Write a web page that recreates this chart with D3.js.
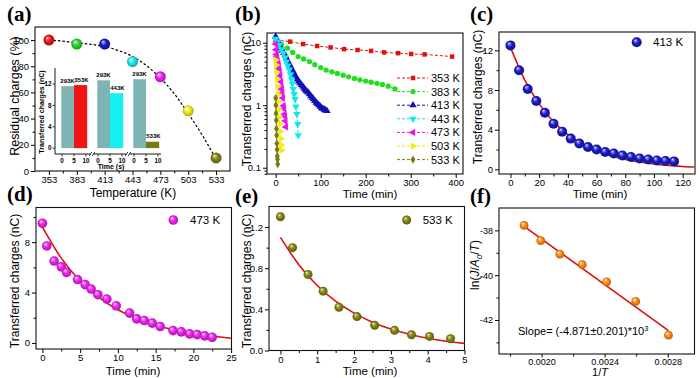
<!DOCTYPE html>
<html><head><meta charset="utf-8">
<script src="https://cdn.jsdelivr.net/npm/d3@7/dist/d3.min.js"></script>
<style>
body{margin:0;background:#fff}
svg{display:block}
text{font-family:Arial,"Liberation Sans",sans-serif;fill:#000}
text.letter{font-family:"Liberation Serif","Times New Roman",serif;font-weight:bold}
</style>
</head><body>
<svg id="fig" width="700" height="378"></svg>
<script>
// ---------------- DATA ----------------
// (a) residual charges vs temperature
const tempsA = [353, 383, 413, 443, 473, 503, 533];
const residualA = [100, 97, 97, 83.5, 72, 46, 10];
const fitA_T = [353, 368, 383, 398, 413, 428, 443, 458, 473, 488, 503, 518, 533];
const fitA_V = [100, 99.2, 98, 96.8, 95, 92, 87.5, 80.5, 71, 59, 44, 27.5, 9];
const tempTicksA = [353, 383, 413, 443, 473, 503, 533];
// (a) inset bars
const insetRefLabel = "293K";
const insetTempLabels = ["353K", "443K", "533K"];
const insetRefCharge = [11.6, 12.7, 12.9];
const insetHotCharge = [11.8, 10.3, 1.2];
const insetTimeTicks = [0, 5, 10];
const insetChargeTicks = [0, 4, 8, 12];

// (b) transferred charges vs time, log scale
const seriesLabelsB = ["353 K", "383 K", "413 K", "443 K", "473 K", "503 K", "533 K"];
const b353_t = [0, 32, 61, 92, 122, 152, 182, 212, 241, 272, 301, 331, 392];
const b353_v = [11.0, 10.4, 9.5, 8.85, 8.4, 7.9, 7.65, 7.4, 7.0, 6.8, 6.6, 6.5, 6.0];
const b383_t = [2, 13, 26, 38, 50, 62, 75, 87, 100, 112, 125, 137, 150, 162, 175, 187, 200, 212, 225, 237, 250, 265];
const b383_v = [10.8, 9.4, 8.2, 7.0, 6.0, 5.5, 5.0, 4.45, 4.0, 3.65, 3.42, 3.22, 3.03, 2.85, 2.68, 2.55, 2.43, 2.33, 2.24, 2.15, 2.02, 1.82];
const b413_t = [0, 3, 6, 9, 12, 15, 18, 21, 24, 27, 30, 33, 36, 39, 42, 45, 48, 51, 54, 57, 60, 63, 66, 69, 72, 75, 78, 81, 84, 87, 90, 93, 96, 99, 102, 105, 108, 111, 114];
const b413_v = [12.5, 11.2, 10.0, 9.0, 8.1, 7.5, 6.9, 6.3, 5.7, 5.1, 4.6, 4.2, 3.8, 3.45, 3.1, 2.85, 2.6, 2.42, 2.25, 2.12, 2.0, 1.87, 1.75, 1.67, 1.6, 1.5, 1.4, 1.32, 1.25, 1.17, 1.1, 1.05, 1.0, 0.95, 0.9, 0.88, 0.85, 0.83, 0.81];
const b443_t = [0, 4, 8, 13, 17, 21, 24, 27, 30, 33, 35, 37, 39, 41, 43, 45, 47, 49, 50];
const b443_v = [11.5, 10.4, 9.2, 7.8, 6.8, 5.8, 5.0, 4.3, 3.7, 3.1, 2.6, 2.2, 1.8, 1.5, 1.25, 0.95, 0.72, 0.5, 0.33];
const b473_t = [0, 0.58, 1.55, 2.5, 3.2, 4.65, 5.66, 6.46, 7.35, 8.54, 9.78, 11.55, 12.5, 13.5, 14.56, 15.6, 17.3, 18.4, 19.5, 20.5, 21.5, 22.5];
const b473_v = [9.5, 7.7, 6.5, 6.04, 5.6, 5.03, 4.63, 4.28, 3.83, 3.48, 2.95, 2.37, 1.91, 1.78, 1.57, 1.3, 0.98, 0.88, 0.72, 0.66, 0.56, 0.45];
const b503_t = [0, 1, 2, 3, 4, 5, 6, 7, 8, 9, 10, 11, 12, 13];
const b503_v = [5.3, 4.4, 3.4, 2.6, 2.0, 1.5, 1.15, 0.85, 0.65, 0.5, 0.38, 0.29, 0.23, 0.19];
const b533_t = [0, 0.33, 0.75, 1.16, 1.59, 2.08, 2.56, 3.1, 3.56, 4.05, 4.62];
const b533_v = [1.30, 1.0, 0.74, 0.577, 0.42, 0.33, 0.245, 0.196, 0.153, 0.137, 0.114];
const timeTicksB = [0, 100, 200, 300, 400];
const chargeTicksB = [0.1, 1, 10];

// (c) 413 K
const c_t = [0, 6, 12, 18, 24, 30, 36, 42, 48, 54, 60, 66, 72, 78, 84, 90, 96, 102, 108, 114];
const c_v = [12.5, 10.0, 8.1, 6.9, 5.7, 4.6, 3.8, 3.1, 2.6, 2.25, 2.0, 1.75, 1.6, 1.4, 1.25, 1.1, 1.0, 0.9, 0.85, 0.8];
const fitC_t = [0, 10, 20, 30, 40, 50, 60, 70, 80, 90, 100, 110, 120, 128];
const fitC_v = [12.3, 9.0, 6.6, 4.8, 3.5, 2.58, 1.88, 1.38, 1.0, 0.74, 0.54, 0.4, 0.29, 0.23];

// (d) 473 K
const d_t = b473_t;
const d_v = b473_v;
const fitD_t = [0, 2.5, 5, 7.5, 10, 12.5, 15, 17.5, 20, 22.5, 25];
const fitD_v = [9.2, 6.73, 4.92, 3.6, 2.64, 1.93, 1.41, 1.03, 0.75, 0.55, 0.37];

// (e) 533 K
const e_t = b533_t;
const e_v = b533_v;
const fitE_t = [0, 0.5, 1, 1.5, 2, 2.5, 3, 3.5, 4, 4.5, 5];
const fitE_v = [1.10, 0.834, 0.632, 0.479, 0.363, 0.275, 0.208, 0.158, 0.119, 0.090, 0.069];

// (f) Arrhenius-type plot
const f_invT = [0.001889, 0.001995, 0.002116, 0.002258, 0.002413, 0.002597, 0.002805];
const f_lnJ = [-37.78, -38.46, -39.06, -39.53, -40.3, -41.17, -42.68];
const fitF_x = [0.001889, 0.002805];
const fitF_y = [-37.82, -42.48];
const slopeText = "Slope= (-4.871\u00B10.201)*10";

// ---------------- DRAW ----------------
const svg = d3.select("#fig");
const defs = svg.append("defs");
const COL = {
  red: "#f01414", green: "#2cd42c", blue: "#1a1ac8", cyan: "#22e4f0",
  magenta: "#ee22ee", yellow: "#eeee1c", olive: "#84840f", orange: "#ff8a12"
};
const lineColorsB = ["#e01010", "#22dd22", "#1010b8", "#10e8f0", "#ee10ee", "#eeee10", "#7a7a10"];
const fitRed = "#dd1010";

function sphere(id, c) {
  const g = defs.append("radialGradient").attr("id", id)
    .attr("cx", "50%").attr("cy", "50%").attr("r", "52%").attr("fx", "33%").attr("fy", "28%");
  const cc = d3.color(c);
  [[0, "#ffffff"], [0.14, d3.interpolateRgb(c, "#ffffff")(0.55)], [0.5, c], [1, cc.darker(1.0).formatHex()]]
    .forEach(([o, col]) => g.append("stop").attr("offset", o).attr("stop-color", col));
  return `url(#${id})`;
}
const grads = {};
Object.keys(COL).forEach(k => grads[k] = sphere("g_" + k, COL[k]));
const tempGrads = ["red", "green", "blue", "cyan", "magenta", "yellow", "olive"].map(k => grads[k]);

const minusFix = s => String(s).replace("\u2212", "-");

function panel(cfg) {
  const g = svg.append("g");
  const x = (cfg.xlog ? d3.scaleLog() : d3.scaleLinear()).domain(cfg.xd).range([cfg.x0, cfg.x1]);
  const y = (cfg.ylog ? d3.scaleLog() : d3.scaleLinear()).domain(cfg.yd).range([cfg.y1, cfg.y0]);
  const fs = cfg.tickFont || 9.5;
  const gxm = g.append("g").attr("transform", `translate(0,${cfg.y1})`)
    .call(d3.axisBottom(x).tickValues(cfg.xm || []).tickSize(2.5).tickFormat(""));
  const gym = g.append("g").attr("transform", `translate(${cfg.x0},0)`)
    .call(d3.axisLeft(y).tickValues(cfg.ym || []).tickSize(2.5).tickFormat(""));
  const gx = g.append("g").attr("transform", `translate(0,${cfg.y1})`)
    .call(d3.axisBottom(x).tickValues(cfg.xt).tickSize(cfg.xTickSize || 4).tickPadding(cfg.xPad != null ? cfg.xPad : 1.5)
      .tickFormat(cfg.xf || (d => minusFix(d))));
  const gy = g.append("g").attr("transform", `translate(${cfg.x0},0)`)
    .call(d3.axisLeft(y).tickValues(cfg.yt).tickSize(4).tickPadding(2).tickFormat(cfg.yf || (d => minusFix(d))));
  [gxm, gym, gx, gy].forEach(a => {
    a.select(".domain").remove();
    a.selectAll("line").attr("stroke", "#000").attr("stroke-width", 1);
    a.selectAll("text").attr("font-size", fs).attr("fill", "#000");
  });
  g.append("rect").attr("x", cfg.x0).attr("y", cfg.y0)
    .attr("width", cfg.x1 - cfg.x0).attr("height", cfg.y1 - cfg.y0)
    .attr("fill", "none").attr("stroke", "#111").attr("stroke-width", 1.1);
  svg.append("text").attr("class", "letter").attr("x", cfg.lx).attr("y", cfg.ly).text(cfg.letter)
    .attr("font-size", 21);
  if (cfg.xtitle) svg.append("text").attr("x", cfg.xtx).attr("y", cfg.xty).attr("text-anchor", "middle")
    .attr("font-size", cfg.xtitleFont || 11.5).text(cfg.xtitle);
  if (cfg.ytitle) svg.append("text").attr("transform", `translate(${cfg.ytx},${cfg.yty}) rotate(-90)`)
    .attr("text-anchor", "middle").attr("dy", "0.35em").attr("font-size", cfg.titleFont || 12).text(cfg.ytitle);
  return { g, x, y };
}

// ---------- (a) ----------
const A = panel({
  x0: 35, x1: 230, y0: 27, y1: 171, xd: [338, 548], yd: [0, 110],
  xt: tempTicksA, xm: [368, 398, 428, 458, 488, 518],
  yt: [0, 20, 40, 60, 80, 100], ym: [10, 30, 50, 70, 90],
  letter: "(a)", lx: 7, ly: 21,
  xtitle: "Temperature (K)", xtx: 133, xty: 196.5, xtitleFont: 12,
  ytitle: "Residual charges (%)", ytx: 15, yty: 96, titleFont: 12.5
});
(function () {
  const g = A.g.append("g");
  const yIn = d3.scaleLinear().domain([-1.1, 15]).range([154, 68]);
  const segStarts = [62, 98, 134];
  const segX = segStarts.map(s => d3.scaleLinear().domain([0, 10]).range([s, s + 24]));
  const refColor = "#7fb4b4";
  const hotColors = [COL.red, "#18f0f0", "#7a7a12"];
  segX.forEach((sx, i) => {
    g.append("rect").attr("x", sx(-0.3)).attr("width", sx(5) - sx(-0.3))
      .attr("y", yIn(insetRefCharge[i])).attr("height", yIn(0) - yIn(insetRefCharge[i])).attr("fill", refColor);
    g.append("rect").attr("x", sx(5)).attr("width", sx(10.5) - sx(5))
      .attr("y", yIn(insetHotCharge[i])).attr("height", yIn(0) - yIn(insetHotCharge[i])).attr("fill", hotColors[i]);
    g.append("text").attr("x", sx(2.3)).attr("y", yIn(insetRefCharge[i]) - 3.5).attr("text-anchor", "middle")
      .attr("font-size", 6).attr("font-weight", "bold").text(insetRefLabel);
    g.append("text").attr("x", sx(8.1)).attr("y", yIn(insetHotCharge[i]) - 3.5).attr("text-anchor", "middle")
      .attr("font-size", 6).attr("font-weight", "bold").text(insetTempLabels[i]);
    insetTimeTicks.forEach(t => {
      g.append("line").attr("x1", sx(t)).attr("x2", sx(t)).attr("y1", 154).attr("y2", 156.5).attr("stroke", "#000").attr("stroke-width", 0.8);
      g.append("text").attr("x", sx(t)).attr("y", 162.5).attr("text-anchor", "middle").attr("font-size", 6.3).attr("font-weight", "bold").text(t);
    });
  });
  g.append("line").attr("x1", 55).attr("x2", 161).attr("y1", 154).attr("y2", 154).attr("stroke", "#000").attr("stroke-width", 0.9);
  g.append("line").attr("x1", 55).attr("x2", 55).attr("y1", 68).attr("y2", 154).attr("stroke", "#000").attr("stroke-width", 0.9);
  [92, 128].forEach(bx => {
    g.append("rect").attr("x", bx - 1.5).attr("y", 152).attr("width", 3).attr("height", 4).attr("fill", "#fff");
    [-1.5, 1.5].forEach(o => g.append("line").attr("x1", bx + o - 1.3).attr("x2", bx + o + 1.3)
      .attr("y1", 156).attr("y2", 152).attr("stroke", "#000").attr("stroke-width", 0.8));
  });
  insetChargeTicks.forEach(v => {
    g.append("line").attr("x1", 52.5).attr("x2", 55).attr("y1", yIn(v)).attr("y2", yIn(v)).attr("stroke", "#000").attr("stroke-width", 0.8);
    g.append("text").attr("x", 51.5).attr("y", yIn(v)).attr("dy", "0.35em").attr("text-anchor", "end")
      .attr("font-size", 6.3).attr("font-weight", "bold").text(v);
  });
  g.append("text").attr("x", 111).attr("y", 169).attr("text-anchor", "middle").attr("font-size", 7).attr("font-weight", "bold").text("Time (s)");
  g.append("text").attr("transform", "translate(42,112) rotate(-90)").attr("text-anchor", "middle").attr("dy", "0.35em")
    .attr("font-size", 7).attr("font-weight", "bold").text("Transferred charges (nC)");
})();
A.g.append("path").datum(fitA_T.map((t, i) => [t, fitA_V[i]]))
  .attr("d", d3.line().x(d => A.x(d[0])).y(d => A.y(d[1])).curve(d3.curveMonotoneX))
  .attr("fill", "none").attr("stroke", "#000").attr("stroke-width", 1.2).attr("stroke-dasharray", "2.5,2");
A.g.selectAll("circle.pt").data(tempsA).join("circle")
  .attr("cx", d => A.x(d)).attr("cy", (d, i) => A.y(residualA[i])).attr("r", 5.5)
  .attr("fill", (d, i) => tempGrads[i]);

// ---------- (b) ----------
const B = panel({
  x0: 267, x1: 463, y0: 33, y1: 174, xd: [-19.3, 416.2], yd: [0.0794, 14.3], ylog: true,
  xt: timeTicksB, xm: [50, 150, 250, 350],
  yt: chargeTicksB, ym: [0.08, 0.09, 0.2, 0.3, 0.4, 0.5, 0.6, 0.7, 0.8, 0.9, 2, 3, 4, 5, 6, 7, 8, 9],
  yf: d => String(d),
  letter: "(b)", lx: 235, ly: 21,
  xtitle: "Time (min)", xtx: 370, xty: 198,
  ytitle: "Transferred charges (nC)", ytx: 247, yty: 99
});
const seriesB = [[b353_t, b353_v], [b383_t, b383_v], [b413_t, b413_v], [b443_t, b443_v], [b473_t, b473_v], [b503_t, b503_v], [b533_t, b533_v]];
const symB = [
  { type: d3.symbolSquare, size: 20, rot: 0 },
  { type: d3.symbolCircle, size: 22, rot: 0 },
  { type: d3.symbolTriangle, size: 24, rot: 0 },
  { type: d3.symbolTriangle, size: 24, rot: 180 },
  { type: d3.symbolTriangle, size: 24, rot: -90 },
  { type: d3.symbolTriangle, size: 24, rot: 90 },
  { type: d3.symbolDiamond, size: 20, rot: 0 }
];
seriesB.forEach(([ts, vs], i) => {
  const pts = ts.map((t, j) => [t, vs[j]]);
  B.g.append("path").datum(pts)
    .attr("d", d3.line().x(d => B.x(d[0])).y(d => B.y(d[1])))
    .attr("fill", "none").attr("stroke", lineColorsB[i]).attr("stroke-width", 1).attr("stroke-dasharray", "3,2");
  B.g.selectAll(null).data(pts).join("path")
    .attr("d", d3.symbol().type(symB[i].type).size(symB[i].size))
    .attr("transform", d => `translate(${B.x(d[0])},${B.y(d[1])}) rotate(${symB[i].rot})`)
    .attr("fill", lineColorsB[i]);
});
seriesLabelsB.forEach((lab, i) => {
  const yy = 78 + i * 13.6;
  B.g.append("line").attr("x1", 397).attr("x2", 428).attr("y1", yy).attr("y2", yy)
    .attr("stroke", lineColorsB[i]).attr("stroke-width", 1).attr("stroke-dasharray", "3,2");
  B.g.append("path").attr("d", d3.symbol().type(symB[i].type).size(symB[i].size))
    .attr("transform", `translate(413,${yy}) rotate(${symB[i].rot})`).attr("fill", lineColorsB[i]);
  B.g.append("text").attr("x", 431).attr("y", yy).attr("dy", "0.36em").attr("font-size", 11).text(lab);
});

// ---------- (c) ----------
function fitPanel(P, ts, vs, ft, fv, grad, r, legend) {
  P.g.append("path").datum(ft.map((t, i) => [t, fv[i]]))
    .attr("d", d3.line().x(d => P.x(d[0])).y(d => P.y(d[1])).curve(d3.curveMonotoneX))
    .attr("fill", "none").attr("stroke", fitRed).attr("stroke-width", 1.6);
  P.g.selectAll(null).data(ts.map((t, i) => [t, vs[i]])).join("circle")
    .attr("cx", d => P.x(d[0])).attr("cy", d => P.y(d[1])).attr("r", r).attr("fill", grad);
  if (legend) {
    P.g.append("circle").attr("cx", legend.mx).attr("cy", legend.my).attr("r", r).attr("fill", grad);
    P.g.append("text").attr("x", legend.tx).attr("y", legend.my).attr("dy", "0.36em").attr("font-size", 11.5).text(legend.text);
  }
}
const C = panel({
  x0: 499, x1: 695, y0: 32, y1: 174, xd: [-8, 128.6], yd: [-0.47, 13.85],
  xt: [0, 20, 40, 60, 80, 100, 120], xm: [10, 30, 50, 70, 90, 110],
  yt: [0, 4, 8, 12], ym: [2, 6, 10],
  letter: "(c)", lx: 470, ly: 21,
  xtitle: "Time (min)", xtx: 600, xty: 198,
  ytitle: "Transferred charges (nC)", ytx: 478, yty: 97
});
fitPanel(C, c_t, c_v, fitC_t, fitC_v, grads.blue, 5, { mx: 636.7, my: 42.3, tx: 653, text: "413 K" });

// ---------- (d) ----------
const D = panel({
  x0: 36, x1: 231.5, y0: 207.5, y1: 349, xd: [-0.85, 25.05], yd: [-0.48, 10.75],
  xt: [0, 5, 10, 15, 20, 25], xm: [2.5, 7.5, 12.5, 17.5, 22.5],
  yt: [0, 4, 8], ym: [2, 6, 10],
  letter: "(d)", lx: 7, ly: 201,
  xtitle: "Time (min)", xtx: 133, xty: 374.5,
  ytitle: "Transferred charges (nC)", ytx: 15, yty: 281
});
fitPanel(D, d_t, d_v, fitD_t, fitD_v, grads.magenta, 4.8, { mx: 173.3, my: 220, tx: 190, text: "473 K" });

// ---------- (e) ----------
const E = panel({
  x0: 269, x1: 464.5, y0: 206.5, y1: 350.5, xd: [-0.31, 5], yd: [0, 1.4],
  xt: [0, 1, 2, 3, 4, 5], xm: [0.5, 1.5, 2.5, 3.5, 4.5],
  yt: [0, 0.4, 0.8, 1.2], ym: [0.2, 0.6, 1.0],
  yf: d3.format(".1f"),
  letter: "(e)", lx: 235, ly: 203,
  xtitle: "Time (min)", xtx: 370, xty: 374.5,
  ytitle: "Transferred charges (nC)", ytx: 247, yty: 281
});
fitPanel(E, e_t, e_v, fitE_t, fitE_v, grads.olive, 4.5, { mx: 406.7, my: 220, tx: 422.7, text: "533 K" });

// ---------- (f) ----------
const F = panel({
  x0: 499, x1: 694.5, y0: 208, y1: 354, xd: [0.00173, 0.00297], yd: [-43.52, -37.0],
  xt: [0.0020, 0.0024, 0.0028], xm: [0.0018, 0.0022, 0.0026],
  xf: d3.format(".4f"), xTickSize: 3.5, xPad: 1,
  yt: [-42, -40, -38], ym: [-43, -41, -39],
  tickFont: 9,
  letter: "(f)", lx: 470, ly: 203
});
F.g.append("path").datum(fitF_x.map((v, i) => [v, fitF_y[i]]))
  .attr("d", d3.line().x(d => F.x(d[0])).y(d => F.y(d[1])))
  .attr("stroke", fitRed).attr("stroke-width", 1.6).attr("fill", "none");
F.g.selectAll(null).data(f_invT.map((v, i) => [v, f_lnJ[i]])).join("circle")
  .attr("cx", d => F.x(d[0])).attr("cy", d => F.y(d[1])).attr("r", 4.4).attr("fill", grads.orange);
const st = F.g.append("text").attr("x", 518).attr("y", 335).attr("font-size", 11);
st.append("tspan").text(slopeText);
st.append("tspan").attr("dy", -4).attr("font-size", 7.5).text("3");
const fx = svg.append("text").attr("x", 600).attr("y", 376).attr("text-anchor", "middle").attr("font-size", 11);
fx.append("tspan").text("1/");
fx.append("tspan").attr("font-style", "italic").text("T");
const fy = svg.append("text").attr("transform", "translate(475,265) rotate(-90)").attr("text-anchor", "middle")
  .attr("dy", "0.35em").attr("font-size", 12);
fy.append("tspan").text("ln(");
fy.append("tspan").attr("font-style", "italic").text("J");
fy.append("tspan").text("/");
fy.append("tspan").attr("font-style", "italic").text("A");
fy.append("tspan").attr("font-style", "italic").attr("font-size", 8).attr("dy", 2.5).text("0");
fy.append("tspan").attr("dy", -2.5).text("/");
fy.append("tspan").attr("font-style", "italic").text("T");
fy.append("tspan").text(")");
</script>
</body></html>
